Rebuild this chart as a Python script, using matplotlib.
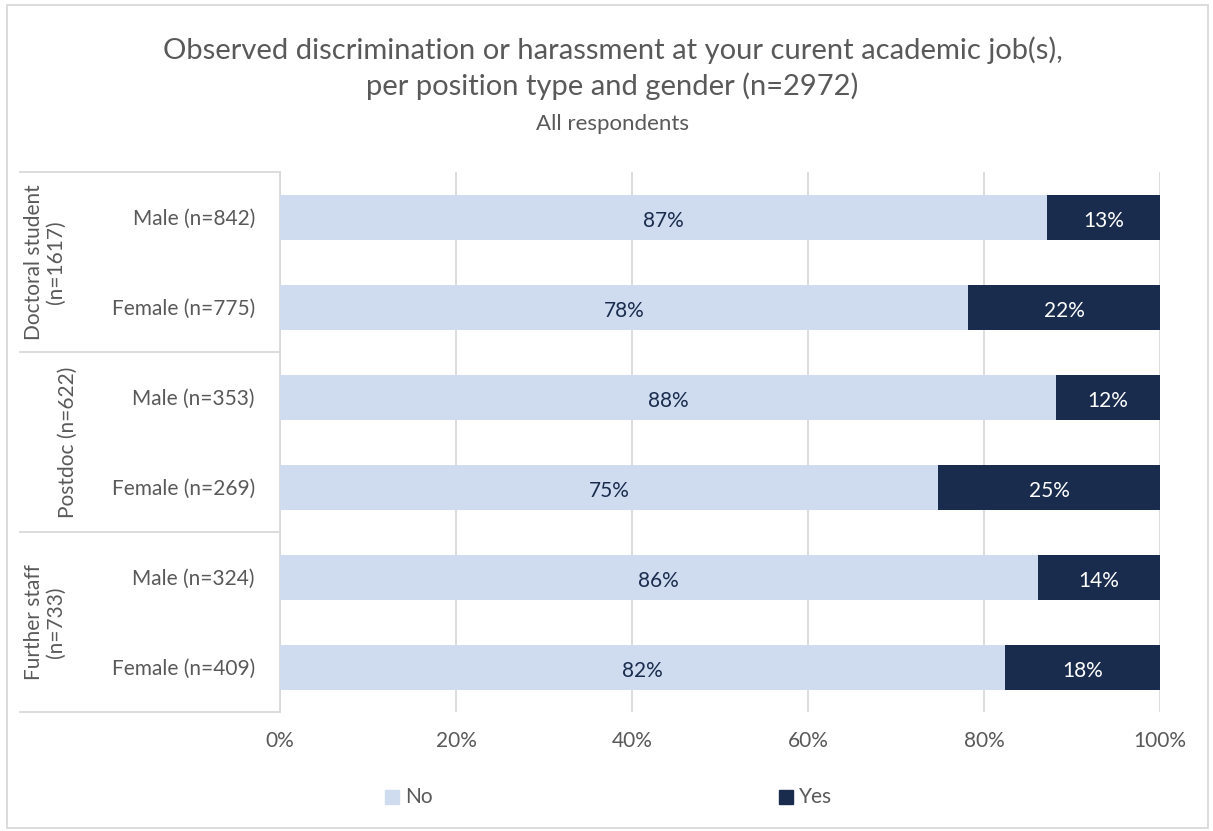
import matplotlib
matplotlib.use("Agg")
import matplotlib.pyplot as plt
from matplotlib.patches import Rectangle
from matplotlib.lines import Line2D

plt.rcParams['font.family'] = ['Lato', 'DejaVu Sans']

categories = ["Male (n=842)", "Female (n=775)", "Male (n=353)", "Female (n=269)",
              "Male (n=324)", "Female (n=409)"]
groups = ["Doctoral student\n(n=1617)", "Postdoc (n=622)", "Further staff\n(n=733)"]
no_vals = [87.2, 78.2, 88.2, 74.8, 86.1, 82.4]
yes_vals = [12.8, 21.8, 11.8, 25.2, 13.9, 17.6]
xticks = [0, 20, 40, 60, 80, 100]
xtick_labels = ["0%", "20%", "40%", "60%", "80%", "100%"]

c_no = "#cfdcef"
c_yes = "#1a2c4e"
txt = "#595959"
grid = "#d9d9d9"

W, H = 1213, 831
fig = plt.figure(figsize=(W / 100, H / 100), dpi=100)

def fx(px):
    return px / W

def fy(py):
    return 1 - py / H

ax = fig.add_axes([fx(280), fy(712), fx(1160) - fx(280), fy(172) - fy(712)])
y = list(range(len(categories)))
ax.barh(y, no_vals, height=0.5, color=c_no, label="No", zorder=3)
ax.barh(y, yes_vals, left=no_vals, height=0.5, color=c_yes, label="Yes", zorder=3)
for i in y:
    ax.text(no_vals[i] / 2, i + 0.02, f"{no_vals[i]:.0f}%", ha="center", va="center_baseline",
            fontsize=15, color="#1a2c4e", zorder=4)
    ax.text(no_vals[i] + yes_vals[i] / 2, i + 0.02, f"{yes_vals[i]:.0f}%", ha="center",
            va="center_baseline", fontsize=15, color="white", zorder=4)
ax.set_xlim(0, 100)
ax.set_ylim(len(categories) - 0.5, -0.5)
ax.set_xticks(xticks)
ax.set_xticklabels(xtick_labels)
ax.set_yticks(y)
ax.set_yticklabels(categories)
ax.tick_params(axis="both", length=0, labelsize=15, labelcolor=txt)
ax.tick_params(axis="x", pad=14)
ax.tick_params(axis="y", pad=18)
ax.grid(axis="x", color=grid, linewidth=1.3, zorder=0)
for s in ["top", "right", "bottom"]:
    ax.spines[s].set_visible(False)
ax.spines["left"].set_color(grid)
ax.spines["left"].set_linewidth(1.3)

# group separators and labels
for py in [172, 352, 532, 712]:
    fig.add_artist(Line2D([fx(20), fx(280)], [fy(py), fy(py)], color=grid, lw=1.3))
group_pos = [(45, 262), (68, 442), (45, 622)]
for g, (px, py) in zip(groups, group_pos):
    fig.text(fx(px), fy(py), g, rotation=90, ha="center", va="center",
             fontsize=15, color=txt, linespacing=1.15)

# titles
fig.text(0.505, fy(68), "Observed discrimination or harassment at your curent academic job(s),\nper position type and gender (n=2972)",
         ha="center", va="center", fontsize=21, color=txt, linespacing=1.35)
fig.text(0.505, fy(124), "All respondents", ha="center", va="center", fontsize=16, color=txt)

# legend
for lab, col, px in [("No", c_no, 385), ("Yes", c_yes, 779)]:
    fig.add_artist(Rectangle((fx(px), fy(797 + 7)), fx(14), fy(0) - fy(14),
                             color=col, transform=fig.transFigure))
    fig.text(fx(px + 20), fy(797), lab, ha="left", va="center", fontsize=15, color=txt)

# outer border
fig.add_artist(Rectangle((fx(7), fy(828)), fx(1208) - fx(7), fy(5) - fy(828),
                         fill=False, edgecolor=grid, lw=1.3, transform=fig.transFigure))

fig.savefig("out.png", dpi=100)
